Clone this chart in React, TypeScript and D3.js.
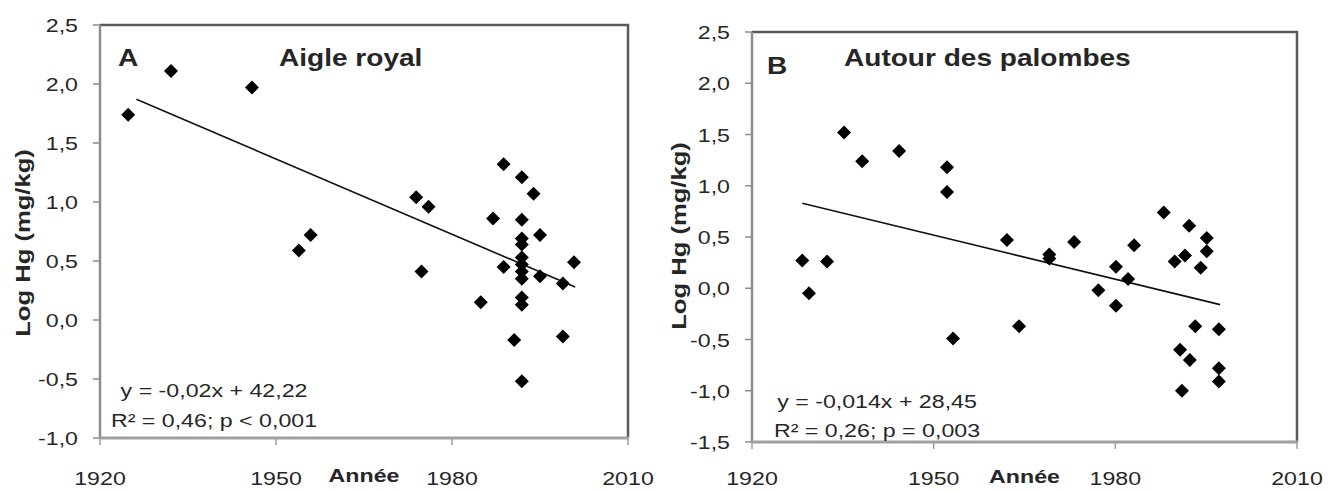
import * as d3 from 'd3'

// Panel A – Aigle royal
const yearsA = [1924.8, 1932.1, 1945.9, 1953.9, 1955.9, 1973.9, 1976.0, 1974.8, 1984.9, 1987.0,
  1988.8, 1988.8, 1990.6, 1991.9, 1991.9, 1991.9, 1991.9, 1991.9, 1991.9, 1991.9,
  1991.9, 1991.9, 1991.9, 1991.9, 1993.9, 1995.0, 1995.0, 1998.9, 1998.9, 2000.8]
const valuesA = [1.74, 2.11, 1.97, 0.59, 0.72, 1.04, 0.96, 0.41, 0.15, 0.86,
  1.32, 0.45, -0.17, 1.21, 0.85, 0.69, 0.64, 0.53, 0.47, 0.41,
  0.35, 0.19, 0.13, -0.52, 1.07, 0.72, 0.37, 0.31, -0.14, 0.49]
const trendYearsA = [1926.2, 2001]
const trendValuesA = [1.87, 0.28]

// Panel B – Autour des palombes
const yearsB = [1928.3, 1929.4, 1932.4, 1935.2, 1938.2, 1944.3, 1952.2, 1952.2, 1953.2, 1962.1,
  1964.1, 1969.1, 1969.1, 1973.2, 1977.2, 1980.1, 1980.1, 1982.1, 1983.1, 1988.0,
  1989.8, 1991.5, 1990.7, 1991.0, 1992.2, 1992.3, 1993.2, 1994.1, 1995.1, 1995.1,
  1997.1, 1997.1, 1997.1]
const valuesB = [0.27, -0.05, 0.26, 1.52, 1.24, 1.34, 1.18, 0.94, -0.49, 0.47,
  -0.37, 0.33, 0.29, 0.45, -0.02, 0.21, -0.17, 0.09, 0.42, 0.74,
  0.26, 0.32, -0.60, -1.00, 0.61, -0.70, -0.37, 0.20, 0.49, 0.36,
  -0.40, -0.78, -0.91]
const trendYearsB = [1928.3, 1997.3]
const trendValuesB = [0.83, -0.16]

const xTicks = [1920, 1950, 1980, 2010]
const yTicksA = [2.5, 2, 1.5, 1, 0.5, 0, -0.5, -1]
const yTicksB = [2.5, 2, 1.5, 1, 0.5, 0, -0.5, -1, -1.5]

const fr = d3.formatLocale({decimal: ',', thousands: ' ', grouping: [3], currency: ['', ''], minus: '-'})
const fmt = fr.format('.1f')

const FONT = 'Liberation Sans, Arial, sans-serif'
const TEXT = '#262626'
const SX = 1.22

type Layout = {
  left: number, right: number, top: number, bottom: number,
  yMin: number,
  letterX: number, letterY: number, titleX: number, titleY: number,
  eqX: number, eq1Y: number, eq2Y: number,
  labelX: number, labelY: number, tickLabelDy: number, anneeDy: number,
}

function SText({x, y, children, size, weight, anchor}: any) {
  return (
    <text
      transform={`translate(${x},${y}) scale(${SX},1)`}
      fontSize={size}
      fontWeight={weight ?? 400}
      textAnchor={anchor ?? 'start'}
      fill={TEXT}
    >
      {children}
    </text>
  )
}

function Panel({L, years, values, trendYears, trendValues, yTicks, letter, title, eq1, eq2}: any) {
  const lay = L as Layout
  const x = d3.scaleLinear().domain([1920, 2010]).range([lay.left, lay.right])
  const y = d3.scaleLinear().domain([lay.yMin, 2.5]).range([lay.bottom, lay.top])
  const diamond = d3.symbol(d3.symbolSquare, 98)()
  const trend = d3.line<number>()
    .x((d) => x(d))
    .y((_, i) => y(trendValues[i]))(trendYears)

  return (
    <g fontFamily={FONT}>
      {/* plot border */}
      <path d={`M${lay.left},${lay.top}H${lay.right}V${lay.bottom}`} fill="none" stroke="#5a5a5a" strokeWidth={2.5} />
      <line x1={lay.left} x2={lay.left} y1={lay.top} y2={lay.bottom + 1} stroke="#8c8c8c" strokeWidth={2.5} />
      <line x1={lay.left} x2={lay.right + 1} y1={lay.bottom} y2={lay.bottom} stroke="#a0a0a0" strokeWidth={3} />
      {yTicks.map((t: number) => (
        <g key={t}>
          <line x1={lay.left - 7} x2={lay.left} y1={y(t)} y2={y(t)} stroke="#8c8c8c" strokeWidth={1.5} />
          <SText x={lay.left - 22} y={y(t) + 7} size={19} anchor="end">{fmt(t)}</SText>
        </g>
      ))}
      {xTicks.map((t) => (
        <g key={t}>
          <line x1={x(t)} x2={x(t)} y1={lay.bottom} y2={lay.bottom + 7} stroke="#a0a0a0" strokeWidth={1.5} />
          <SText x={x(t)} y={lay.bottom + lay.tickLabelDy} size={19} anchor="middle">{t}</SText>
        </g>
      ))}
      <SText x={x(1965)} y={lay.bottom + lay.anneeDy} size={19} weight={700} anchor="middle">Année</SText>
      <g transform={`translate(${lay.labelX},${lay.labelY}) rotate(-90) scale(${SX},1)`}>
        <text fontSize={21} fontWeight={700} textAnchor="middle" dy="0.35em" fill={TEXT}>Log Hg (mg/kg)</text>
      </g>
      <path d={trend ?? undefined} fill="none" stroke="#111" strokeWidth={1.6} />
      {years.map((yr: number, i: number) => (
        <path key={i} d={diamond ?? undefined}
          transform={`translate(${x(yr)},${y(values[i])}) rotate(45)`} fill="#000" />
      ))}
      <SText x={lay.letterX} y={lay.letterY} size={23} weight={700}>{letter}</SText>
      <SText x={lay.titleX} y={lay.titleY} size={23} weight={700}>{title}</SText>
      <SText x={lay.eqX} y={lay.eq1Y} size={19} anchor="middle">{eq1}</SText>
      <SText x={lay.eqX} y={lay.eq2Y} size={19} anchor="middle">{eq2}</SText>
    </g>
  )
}

const layoutA: Layout = {
  left: 100, right: 628, top: 25, bottom: 438, yMin: -1,
  letterX: 118, letterY: 66, titleX: 279, titleY: 66,
  eqX: 214, eq1Y: 397, eq2Y: 427,
  labelX: 23, labelY: 243, tickLabelDy: 47, anneeDy: 44,
}
const layoutB: Layout = {
  left: 752, right: 1297, top: 32, bottom: 442, yMin: -1.5,
  letterX: 767, letterY: 74, titleX: 844, titleY: 66,
  eqX: 877, eq1Y: 408, eq2Y: 437,
  labelX: 679, labelY: 236, tickLabelDy: 43, anneeDy: 41,
}

export default function App() {
  return (
    <svg width={1328} height={491} style={{position: 'absolute', left: 0, top: 0, background: '#fff'}}>
      <rect width={1328} height={491} fill="#fff" />
      <Panel L={layoutA} years={yearsA} values={valuesA} trendYears={trendYearsA} trendValues={trendValuesA}
        yTicks={yTicksA} letter="A" title="Aigle royal"
        eq1="y = -0,02x + 42,22" eq2="R² = 0,46; p < 0,001" />
      <Panel L={layoutB} years={yearsB} values={valuesB} trendYears={trendYearsB} trendValues={trendValuesB}
        yTicks={yTicksB} letter="B" title="Autour des palombes"
        eq1="y = -0,014x + 28,45" eq2="R² = 0,26; p = 0,003" />
    </svg>
  )
}
